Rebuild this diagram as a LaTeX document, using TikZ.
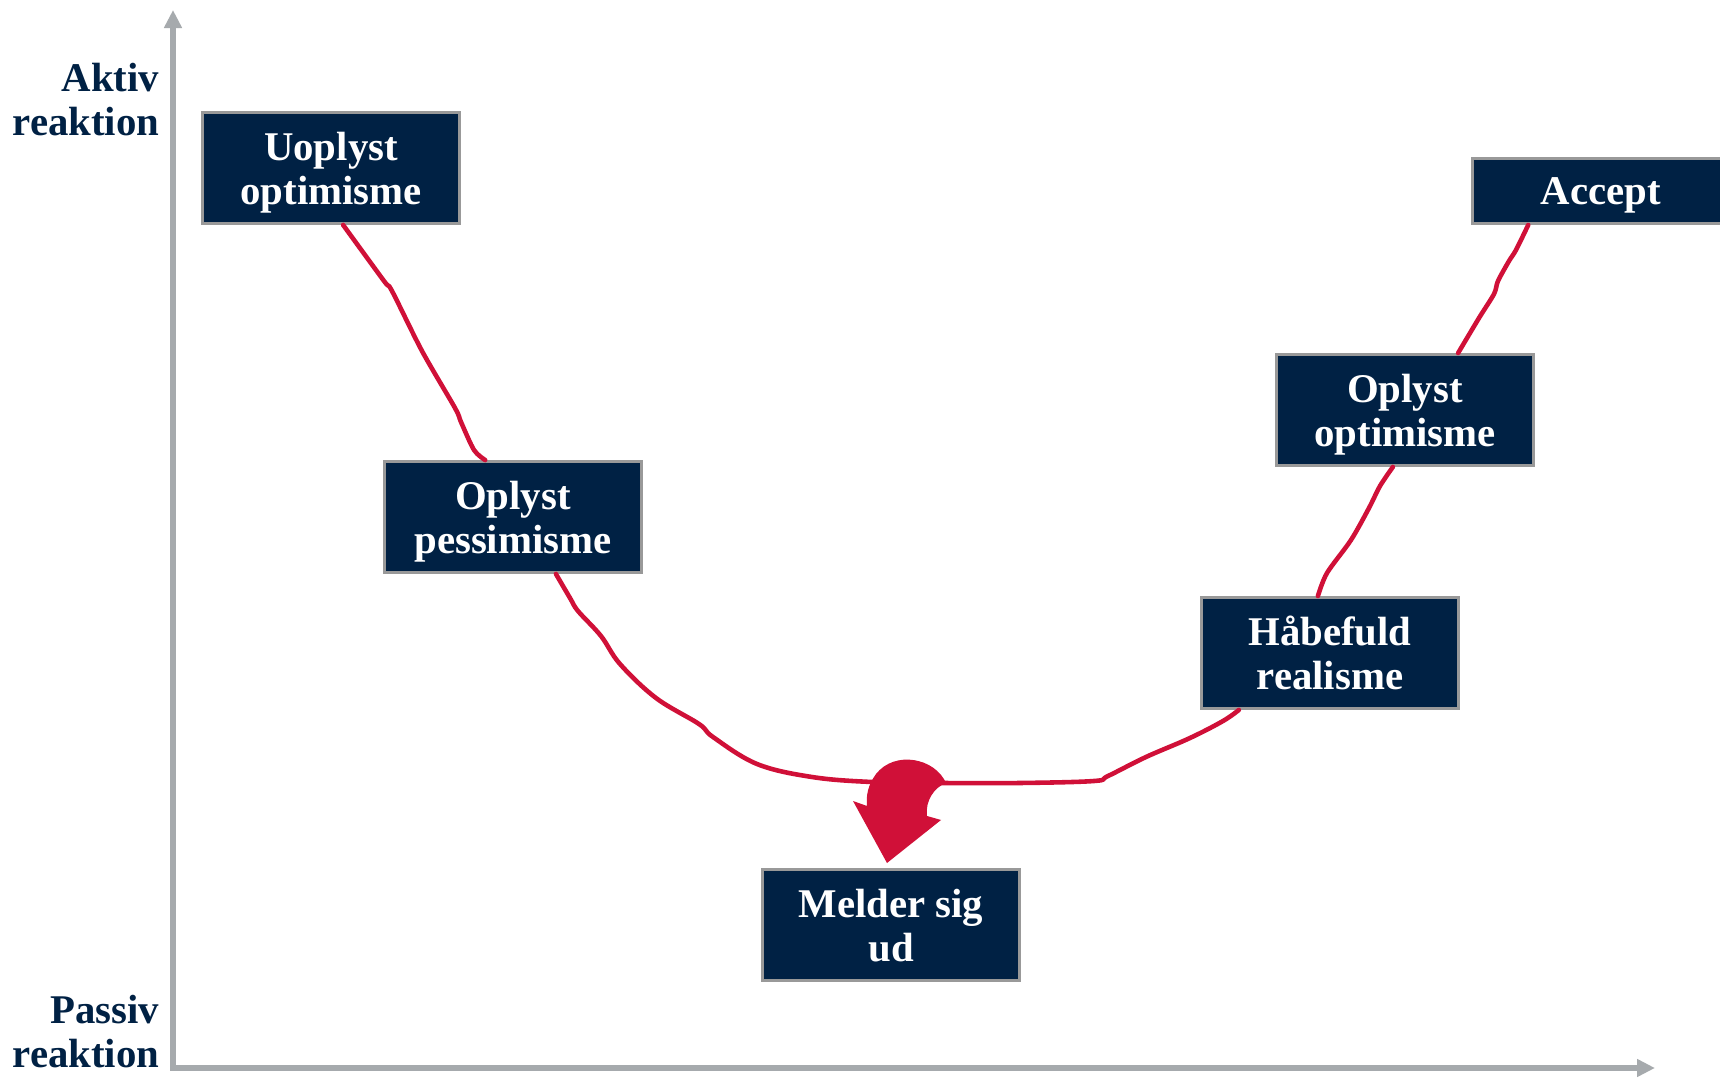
\documentclass[tikz,border=0pt]{standalone}
\usepackage{fontspec}
\setmainfont{Liberation Serif}
\usetikzlibrary{arrows.meta}

\definecolor{boxblue}{RGB}{0,33,68}
\definecolor{curvered}{RGB}{208,16,56}
\definecolor{axisgray}{RGB}{166,170,173}

\tikzset{
  phase/.style={fill=boxblue, draw=gray!80, line width=0.8pt, text=white,
    font=\bfseries\fontsize{11.6}{12.5}\selectfont, align=center,
    minimum width=2.57cm, minimum height=1.11cm, inner sep=0pt, text depth=0pt},
  axislabel/.style={text=boxblue, font=\bfseries\fontsize{11.6}{12.5}\selectfont,
    align=right, anchor=east, inner sep=0pt},
  axisline/.style={axisgray, line width=1.6pt,
    {Triangle[length=0.18cm,width=0.17cm]}-{Triangle[length=0.18cm,width=0.17cm]}},
  curve/.style={curvered, line width=1.3pt, line cap=round, line join=round},
}

\begin{document}
\begin{tikzpicture}[x=0.01cm, y=-0.01cm]
    \useasboundingbox[fill=white] (0,0) rectangle (1720,1079);

    % Axes
    \coordinate (ytop) at (173,10);
    \coordinate (origin) at (173,1068);
    \coordinate (xend) at (1655,1068);
    \draw[axisline] (ytop) -- (origin) -- (xend);

    \node[axislabel] (aktiv) at (160,100) {Aktiv\\reaktion};
    \node[axislabel] (passiv) at (160,1032) {Passiv\\reaktion};

    % Phases
    \node[phase] (uopt) at (331,168) {Uoplyst\\optimisme};
    \node[phase] (opess) at (513,517) {Oplyst\\pessimisme};
    \node[phase] (melder) at (891,925) {Melder sig\\ud};
    \node[phase] (habe) at (1330,653) {Håbefuld\\realisme};
    \node[phase] (oopt) at (1405,410) {Oplyst\\optimisme};
    \node[phase, minimum height=0.65cm] (accept) at (1601,191) {Accept};

    % Change curve
    \draw[curve] plot[smooth, tension=0.5] coordinates {(uopt.-78) (384,281) (392,291)
        (422,351) (455,408) (461,422) (474,450) (opess.116)};
    \draw[curve] plot[smooth, tension=0.6] coordinates {(opess.-53) (570,598) (578,611)
        (601,636) (620,664) (656,698) (699,724) (713,737) (757,764) (812,777) (872,782)
        (943,783) (1020,783) (1094,781) (1108,776) (1146,757) (1190,738) (1223,721)
        (habe.-148)};
    \draw[curve] plot[smooth, tension=0.5] coordinates {(habe.102) (1327,573) (1351,540)
        (1369,508) (1380,486) (oopt.-102)};
    \draw[curve] plot[smooth, tension=0.5] coordinates {(oopt.47) (1479,318) (1494,294)
        (1498,281) (1509,261) (1516,250) (accept.-155)};

    % Drop-out arrow
    \fill[curvered] (946,783) .. controls (935,758) and (895,750) .. (876,774)
        .. controls (868,785) and (866,795) .. (867,806) -- (853,801) -- (887,863)
        -- (941,820) -- (927,816) .. controls (925,800) and (935,787) .. (946,783) -- cycle;
\end{tikzpicture}
\end{document}
